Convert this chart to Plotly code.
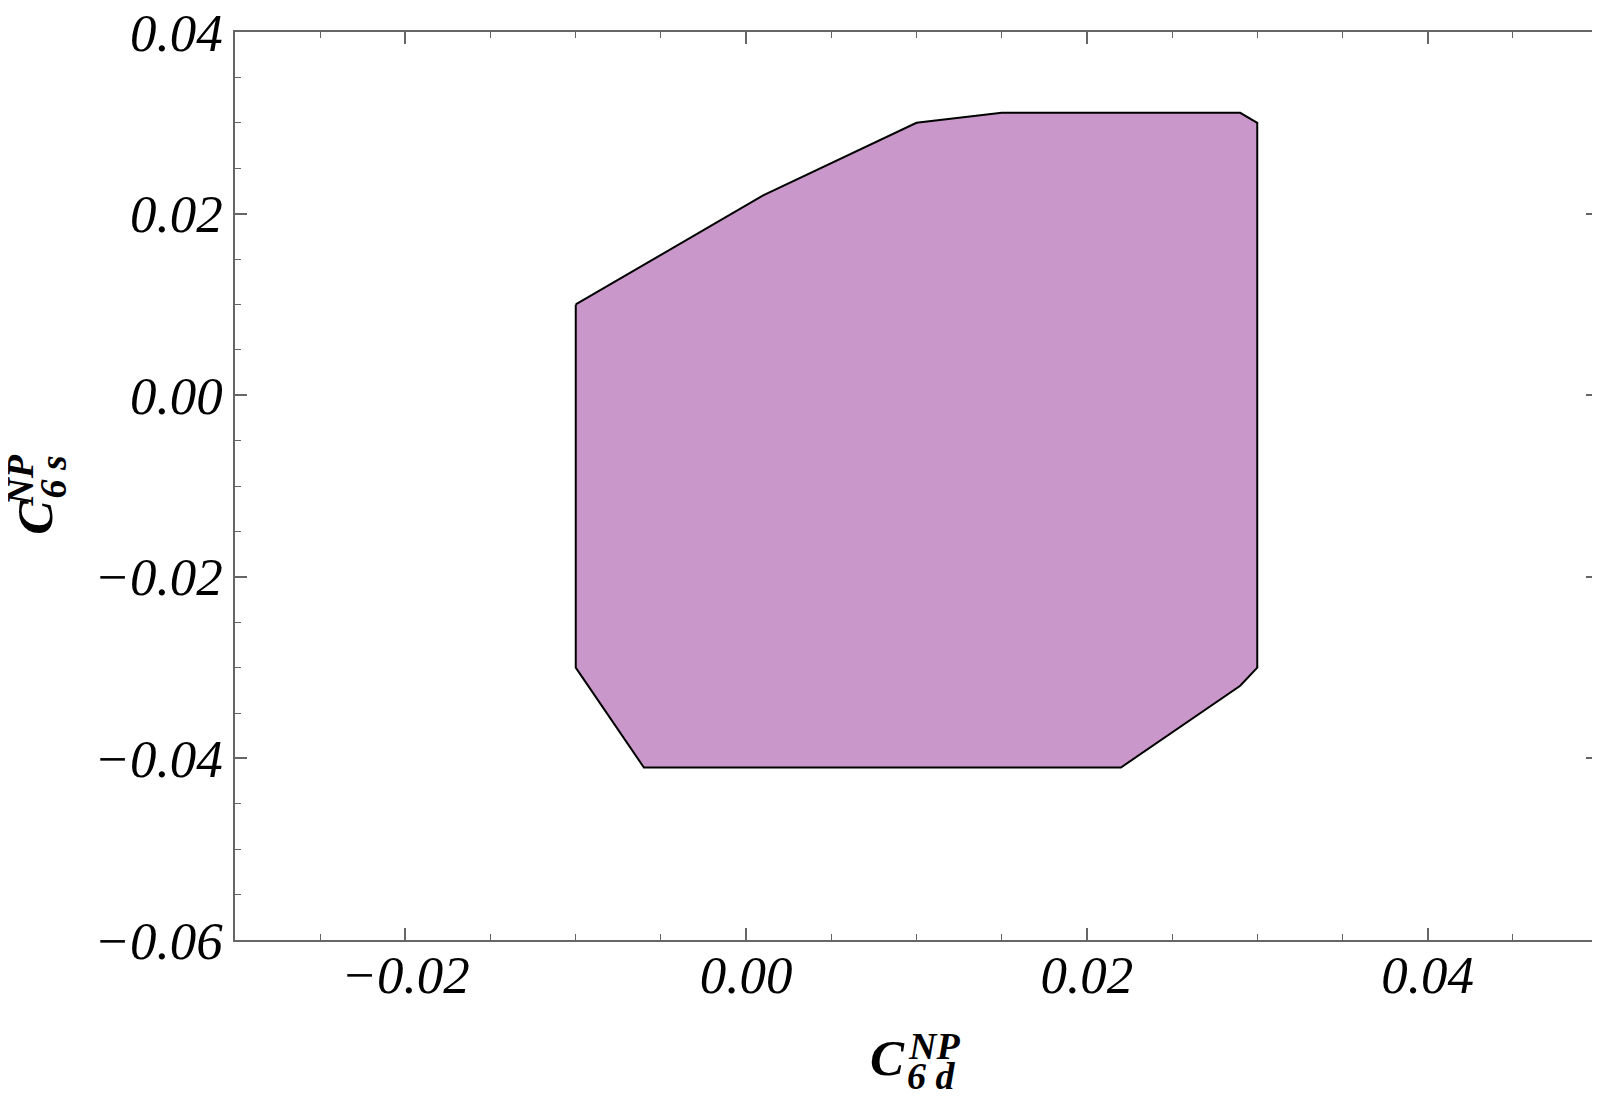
import plotly.graph_objects as go

# boundary of the allowed region (C6d, C6s)
c6d = [-0.010, 0.001, 0.010, 0.015, 0.029, 0.030, 0.030, 0.029, 0.022, -0.006, -0.010, -0.010]
c6s = [0.010, 0.022, 0.030, 0.0311, 0.0311, 0.030, -0.030, -0.032, -0.041, -0.041, -0.030, 0.010]

x_range = [-0.03, 0.05]
y_range = [-0.06, 0.04]

fill_color = "#CA97CA"
axis_color = "#666666"
serif = "Liberation Serif"

fig = go.Figure()

fig.add_trace(go.Scatter(
    x=c6d, y=c6s,
    mode="lines",
    fill="toself",
    fillcolor=fill_color,
    line=dict(color="black", width=2),
    showlegend=False,
    hoverinfo="skip"
))

axis_style = dict(
    showline=True,
    linecolor=axis_color,
    linewidth=1.5,
    mirror="ticks",
    ticks="inside",
    ticklen=12,
    tickwidth=1.5,
    tickcolor=axis_color,
    minor=dict(ticks="inside", dtick=0.005, ticklen=6, tickwidth=1, tickcolor=axis_color),
    showgrid=False,
    zeroline=False,
    tick0=0,
    dtick=0.02,
    tickformat=".2f",
    automargin=False,
    ticklabeloverflow="allow",
    tickfont=dict(family=serif, size=53, color="black", style="italic"),
)

fig.update_xaxes(range=x_range, ticklabelstandoff=-12, **axis_style)
fig.update_yaxes(range=y_range, ticklabelstandoff=0, **axis_style)

title_font = dict(family=serif, color="black", style="italic", weight="bold")

annotations = [
    # x title: C^NP_6d
    dict(text="C", x=0.4784, y=-0.130, xanchor="center", yanchor="middle",
         font=dict(size=51, **title_font)),
    dict(text="NP", x=0.4925, y=-0.117, xanchor="left", yanchor="middle",
         font=dict(size=38, **title_font)),
    dict(text="6 d", x=0.4916, y=-0.1495, xanchor="left", yanchor="middle",
         font=dict(size=38, **title_font)),
    # y title: C^NP_6s
    dict(text="C", x=-0.1468, y=0.4659, xanchor="center", yanchor="middle", textangle=-90,
         font=dict(size=51, **title_font)),
    dict(text="NP", x=-0.1575, y=0.4755, xanchor="center", yanchor="bottom", textangle=-90,
         font=dict(size=38, **title_font)),
    dict(text="6 s", x=-0.1335, y=0.4835, xanchor="center", yanchor="bottom", textangle=-90,
         font=dict(size=38, **title_font)),
]
for a in annotations:
    a.update(xref="paper", yref="paper", showarrow=False)

# the page body has an 8px margin, so the figure is drawn 8px smaller and offset
fig.update_layout(
    width=1592,
    height=1092,
    margin=dict(l=227, r=2, t=24, b=160),
    plot_bgcolor="white",
    paper_bgcolor="white",
    annotations=annotations,
)

fig.write_html("out.html")
